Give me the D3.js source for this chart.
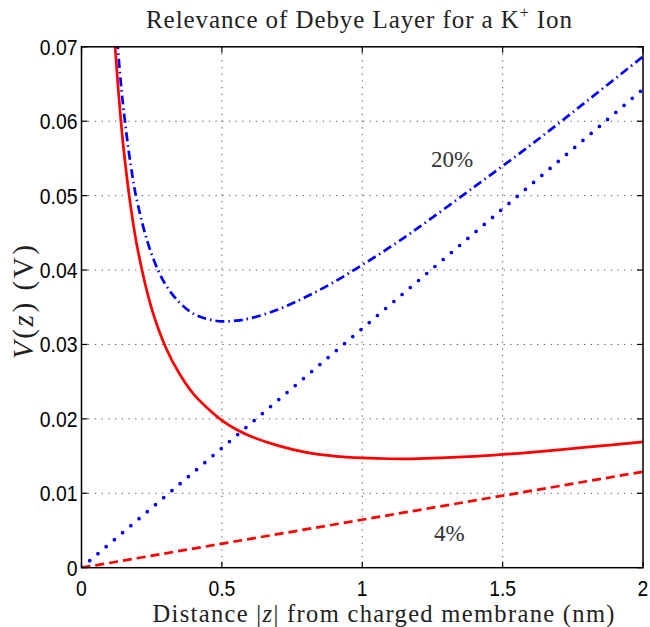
<!DOCTYPE html>
<html>
<head>
<meta charset="utf-8">
<script src="https://cdn.jsdelivr.net/npm/d3@7"></script>
<style>
  html, body { margin: 0; padding: 0; background: #fff; }
  svg { display: block; }
</style>
</head>
<body>
<svg id="chart" width="650" height="627"></svg>
<script>
// ---- data ----
const xTicks = [0, 0.5, 1, 1.5, 2];
const xTickLabels = ["0", "0.5", "1", "1.5", "2"];
const yTicks = [0, 0.01, 0.02, 0.03, 0.04, 0.05, 0.06, 0.07];
const yTickLabels = ["0", "0.01", "0.02", "0.03", "0.04", "0.05", "0.06", "0.07"];

// distance |z| (nm) at which the curves were read
const zCurve = [0.11, 0.12, 0.13, 0.14, 0.15, 0.175, 0.2, 0.25, 0.3, 0.35, 0.4, 0.45,
                0.5, 0.55, 0.6, 0.7, 0.8, 0.9, 1.0, 1.1, 1.2, 1.4, 1.6, 1.8, 2.0];
// 20% case, total potential (blue dash-dot)
const vBlueTotal = [0.0808, 0.0747, 0.0696, 0.0652, 0.0615, 0.0542, 0.0489, 0.0421, 0.0380, 0.0356,
                    0.0341, 0.0334, 0.0331, 0.0332, 0.0335, 0.0347, 0.0364, 0.0384, 0.0407, 0.0431,
                    0.0457, 0.0512, 0.0568, 0.0627, 0.0687];
// 4% case, total potential (red solid)
const vRedTotal = [0.0762, 0.0699, 0.0647, 0.0602, 0.0563, 0.0486, 0.0428, 0.0348, 0.0296, 0.0260,
                   0.0233, 0.0214, 0.0198, 0.0186, 0.0177, 0.0164, 0.0155, 0.0150, 0.01475, 0.01464,
                   0.01466, 0.01496, 0.01551, 0.01620, 0.0169];
// linear parts
const zLine = [0, 2];
const vBlueLinear = [0, 0.0643];   // blue dotted
const vRedLinear = [0, 0.0129];    // red dashed

const annotations = [
  { text: "20%", z: 1.32, v: 0.0538 },
  { text: "4%", z: 1.31, v: 0.0036 }
];

// ---- layout ----
const svg = d3.select("#chart");
const L = 81.5, R = 643, T = 46.8, B = 567.7;
const x = d3.scaleLinear().domain([0, 2]).range([L, R]);
const y = d3.scaleLinear().domain([0, 0.07]).range([B, T]);

// clip
svg.append("defs").append("clipPath").attr("id", "clip")
  .append("rect").attr("x", L).attr("y", T).attr("width", R - L).attr("height", B - T);

// grid
const grid = svg.append("g");
grid.selectAll(".vg").data(xTicks.slice(1, -1)).join("line")
  .attr("x1", d => x(d)).attr("x2", d => x(d)).attr("y1", T).attr("y2", B)
  .attr("stroke", "#555").attr("stroke-width", 1).attr("stroke-dasharray", "1.3,5.4");
grid.selectAll(".hg").data(yTicks.slice(1, -1)).join("line")
  .attr("y1", d => y(d)).attr("y2", d => y(d)).attr("x1", L).attr("x2", R)
  .attr("stroke", "#555").attr("stroke-width", 1).attr("stroke-dasharray", "1.3,5.4");

// curves
const plot = svg.append("g").attr("clip-path", "url(#clip)");
const line = d3.line().x(d => x(d[0])).y(d => y(d[1])).curve(d3.curveCatmullRom.alpha(0.5));

plot.append("path")
  .attr("d", line(zLine.map((z, i) => [z, vRedLinear[i]])))
  .attr("fill", "none").attr("stroke", "#ff0000").attr("stroke-width", 2.7)
  .attr("stroke-dasharray", "9,5");

plot.append("path")
  .attr("d", line(zLine.map((z, i) => [z, vBlueLinear[i]])))
  .attr("fill", "none").attr("stroke", "#0000ff").attr("stroke-width", 3.7)
  .attr("stroke-linecap", "round").attr("stroke-dasharray", "0,10.8");

plot.append("path")
  .attr("d", line(zCurve.map((z, i) => [z, vBlueTotal[i]])))
  .attr("fill", "none").attr("stroke", "#0000ff").attr("stroke-width", 2.7)
  .attr("stroke-dasharray", "9,4,1.5,4");

plot.append("path")
  .attr("d", line(zCurve.map((z, i) => [z, vRedTotal[i]])))
  .attr("fill", "none").attr("stroke", "#ff0000").attr("stroke-width", 2.7);

// box + inward ticks
svg.append("rect").attr("x", L).attr("y", T).attr("width", R - L).attr("height", B - T)
  .attr("fill", "none").attr("stroke", "#000").attr("stroke-width", 1.5);

const tk = 6;
const ticks = svg.append("g").attr("stroke", "#000").attr("stroke-width", 1.2);
xTicks.forEach(d => {
  ticks.append("line").attr("x1", x(d)).attr("x2", x(d)).attr("y1", B).attr("y2", B - tk);
  ticks.append("line").attr("x1", x(d)).attr("x2", x(d)).attr("y1", T).attr("y2", T + tk);
});
yTicks.forEach(d => {
  ticks.append("line").attr("y1", y(d)).attr("y2", y(d)).attr("x1", L).attr("x2", L + tk);
  ticks.append("line").attr("y1", y(d)).attr("y2", y(d)).attr("x1", R).attr("x2", R - tk);
});

// tick labels (slightly narrow Helvetica look)
const sans = "'Liberation Sans', Arial, Helvetica, sans-serif";
function narrow(sel) {
  sel.each(function() {
    const w = this.getComputedTextLength();
    d3.select(this).attr("textLength", w * 0.88).attr("lengthAdjust", "spacingAndGlyphs");
  });
}
svg.append("g").selectAll("text").data(xTicks).join("text")
  .attr("x", d => x(d)).attr("y", 595.5)
  .attr("text-anchor", "middle")
  .attr("font-family", sans).attr("font-size", 22)
  .text((d, i) => xTickLabels[i]).call(narrow);

svg.append("g").selectAll("text").data(yTicks).join("text")
  .attr("x", 77.5).attr("y", d => y(d) + 8)
  .attr("text-anchor", "end")
  .attr("font-family", sans).attr("font-size", 22)
  .text((d, i) => yTickLabels[i]).call(narrow);

// serif texts
const serif = "'Liberation Serif', 'DejaVu Serif', serif";

const title = svg.append("text")
  .attr("x", 146).attr("y", 28)
  .attr("font-family", serif).attr("font-size", 25).attr("fill", "#222")
  .attr("textLength", 426).attr("lengthAdjust", "spacing");
title.append("tspan").text("Relevance of Debye Layer for a K");
title.append("tspan").text("+").attr("font-size", 16).attr("dy", -10);
title.append("tspan").text(" Ion").attr("dy", 10);

const xl = svg.append("text")
  .attr("x", 152.5).attr("y", 622)
  .attr("font-family", serif).attr("font-size", 24.5).attr("fill", "#222")
  .attr("textLength", 462).attr("lengthAdjust", "spacing");
xl.append("tspan").text("Distance |");
xl.append("tspan").text("z").attr("font-style", "italic");
xl.append("tspan").text("| from charged membrane (nm)");

const yl = svg.append("text")
  .attr("transform", "translate(33,359) rotate(-90)")
  .attr("font-family", serif).attr("font-size", 29).attr("fill", "#222")
  .attr("textLength", 114).attr("lengthAdjust", "spacing");
yl.append("tspan").text("V").attr("font-style", "italic");
yl.append("tspan").text("(");
yl.append("tspan").text("z").attr("font-style", "italic");
yl.append("tspan").text(")  (V)");

svg.append("g").selectAll("text").data(annotations).join("text")
  .attr("x", d => x(d.z)).attr("y", d => y(d.v))
  .attr("text-anchor", "middle")
  .attr("font-family", serif).attr("font-size", 23).attr("fill", "#333")
  .text(d => d.text);
</script>
</body>
</html>
